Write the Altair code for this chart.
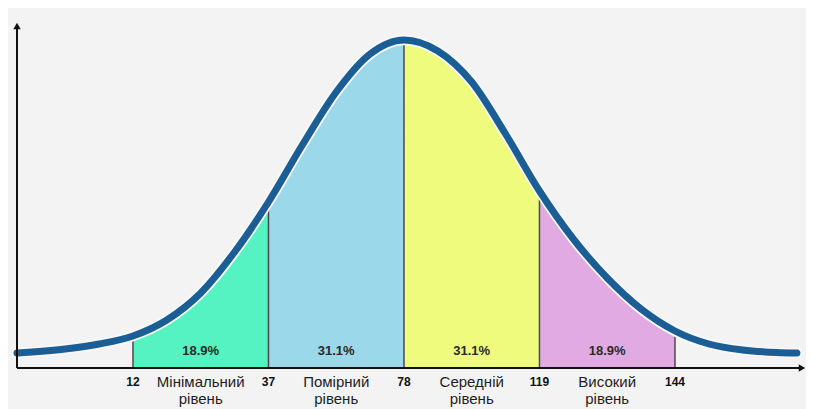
import altair as alt
import pandas as pd

# ---- data ----
# x positions are in "tick slot" units: tick k (1..5) sits at position k
tick_pos = [1, 2, 3, 4, 5]
tick_labels = ["12", "37", "78", "119", "144"]

region_keys = ["min", "mod", "mid", "high"]
region_names = ["Мінімальний\nрівень", "Помірний\nрівень", "Середній\nрівень", "Високий\nрівень"]
region_share = ["18.9%", "31.1%", "31.1%", "18.9%"]
region_colors = ["#55f2c2", "#9ad8ea", "#effb7c", "#e2aae2"]

# bell curve (position, height above the axis)
curve_pos = [0.144, 0.5, 0.75, 1.0, 1.25, 1.5, 1.75, 2.0, 2.25, 2.5, 2.75,
             3.0, 3.25, 3.5, 3.75, 4.0, 4.25, 4.5, 4.75, 5.0, 5.25, 5.5, 5.75, 5.9]
curve_h = [15, 19, 24, 32, 48, 75, 116, 166, 223, 276, 314,
           328, 317, 286, 234, 177, 129, 90, 59, 37, 24, 18, 15.5, 15]

X0, X1 = 0.144, 5.967
Y0, Y1 = 0, 348
FONT = "Liberation Sans"

xs = alt.Scale(domain=[X0, X1], nice=False, zero=False)
ys = alt.Scale(domain=[Y0, Y1], nice=False, zero=False)

curve = pd.DataFrame({"pos": curve_pos, "h": curve_h})

rows = []
for i, key in enumerate(region_keys):
    lo, hi = tick_pos[i], tick_pos[i + 1]
    for p, h in zip(curve_pos, curve_h):
        if lo <= p <= hi:
            rows.append({"region": key, "pos": p, "h": h, "base": 0})
areas_df = pd.DataFrame(rows)

h_at = dict(zip(curve_pos, curve_h))
bounds = pd.DataFrame({"pos": tick_pos, "top": [h_at[float(p)] - 3 for p in tick_pos], "base": 0})
ticks = pd.DataFrame({"pos": tick_pos, "label": tick_labels, "h": -14})
mids = pd.DataFrame({
    "pos": [(tick_pos[i] + tick_pos[i + 1]) / 2 for i in range(4)],
    "name": region_names,
    "share": region_share,
    "h_share": 17,
    "h_name": -7,
})


def X(f="pos"):
    return alt.X(f"{f}:Q", scale=xs, axis=None)


def Y(f="h"):
    return alt.Y(f"{f}:Q", scale=ys, axis=None, stack=None)


area_layers = []
for key, col in zip(region_keys, region_colors):
    sub = areas_df[areas_df["region"] == key]
    area_layers.append(
        alt.Chart(sub).mark_area(interpolate="monotone", color=col, opacity=1, orient="vertical").encode(
            x=X(), y=Y(), y2="base:Q"
        )
    )

bound_rules = alt.Chart(bounds).mark_rule(color="#4a4a4a", strokeWidth=1.5).encode(
    x=X(), y=Y("base"), y2="top:Q"
)

halo = alt.Chart(curve).mark_line(interpolate="monotone", color="#f8f8f8", strokeWidth=10.5,
                                  strokeCap="round").encode(x=X(), y=Y(), order="pos:Q")
line = alt.Chart(curve).mark_line(interpolate="monotone", color="#1b5e96", strokeWidth=7,
                                  strokeCap="round").encode(x=X(), y=Y(), order="pos:Q")

axis_df = pd.DataFrame({"x": [X0], "y": [0], "xend": [X1 - 0.03], "ytop": [Y1 - 6]})
y_axis = alt.Chart(axis_df).mark_rule(color="#111", strokeWidth=2).encode(
    x=X("x"), y=Y("y"), y2="ytop:Q")
x_axis = alt.Chart(axis_df).mark_rule(color="#111", strokeWidth=2).encode(
    x=X("x"), x2="xend:Q", y=Y("y"))
arrow_up = alt.Chart(axis_df).mark_point(shape="triangle-up", filled=True, color="#111",
                                         size=55, opacity=1).encode(x=X("x"), y=Y("ytop"))
arrow_right = alt.Chart(axis_df).mark_point(shape="triangle-right", filled=True, color="#111",
                                            size=55, opacity=1).encode(x=X("xend"), y=Y("y"))

share_txt = alt.Chart(mids).mark_text(font=FONT, fontSize=13, fontWeight="bold", color="#2a2a2a",
                                      baseline="middle").encode(
    x=X(), y=Y("h_share"), text="share:N")
tick_txt = alt.Chart(ticks).mark_text(font=FONT, fontSize=12, fontWeight="bold", color="#111",
                                      baseline="middle").encode(
    x=X(), y=Y(), text="label:N")
name_txt = alt.Chart(mids).mark_text(font=FONT, fontSize=15, color="#1e1e1e", baseline="top",
                                     lineBreak="\n", lineHeight=17).encode(
    x=X(), y=Y("h_name"), text="name:N")

chart = alt.layer(
    *area_layers, bound_rules, halo, line, y_axis, x_axis, arrow_up, arrow_right,
    share_txt, tick_txt, name_txt,
).properties(
    width=789, height=348,
    padding={"left": 9, "top": 12, "right": 0, "bottom": 41},
    autosize=alt.AutoSizeParams(type="none"),
    background="#f3f3f3",
).configure_view(stroke=None)

chart.save("out.html", embed_options={"renderer": "svg", "actions": False})
